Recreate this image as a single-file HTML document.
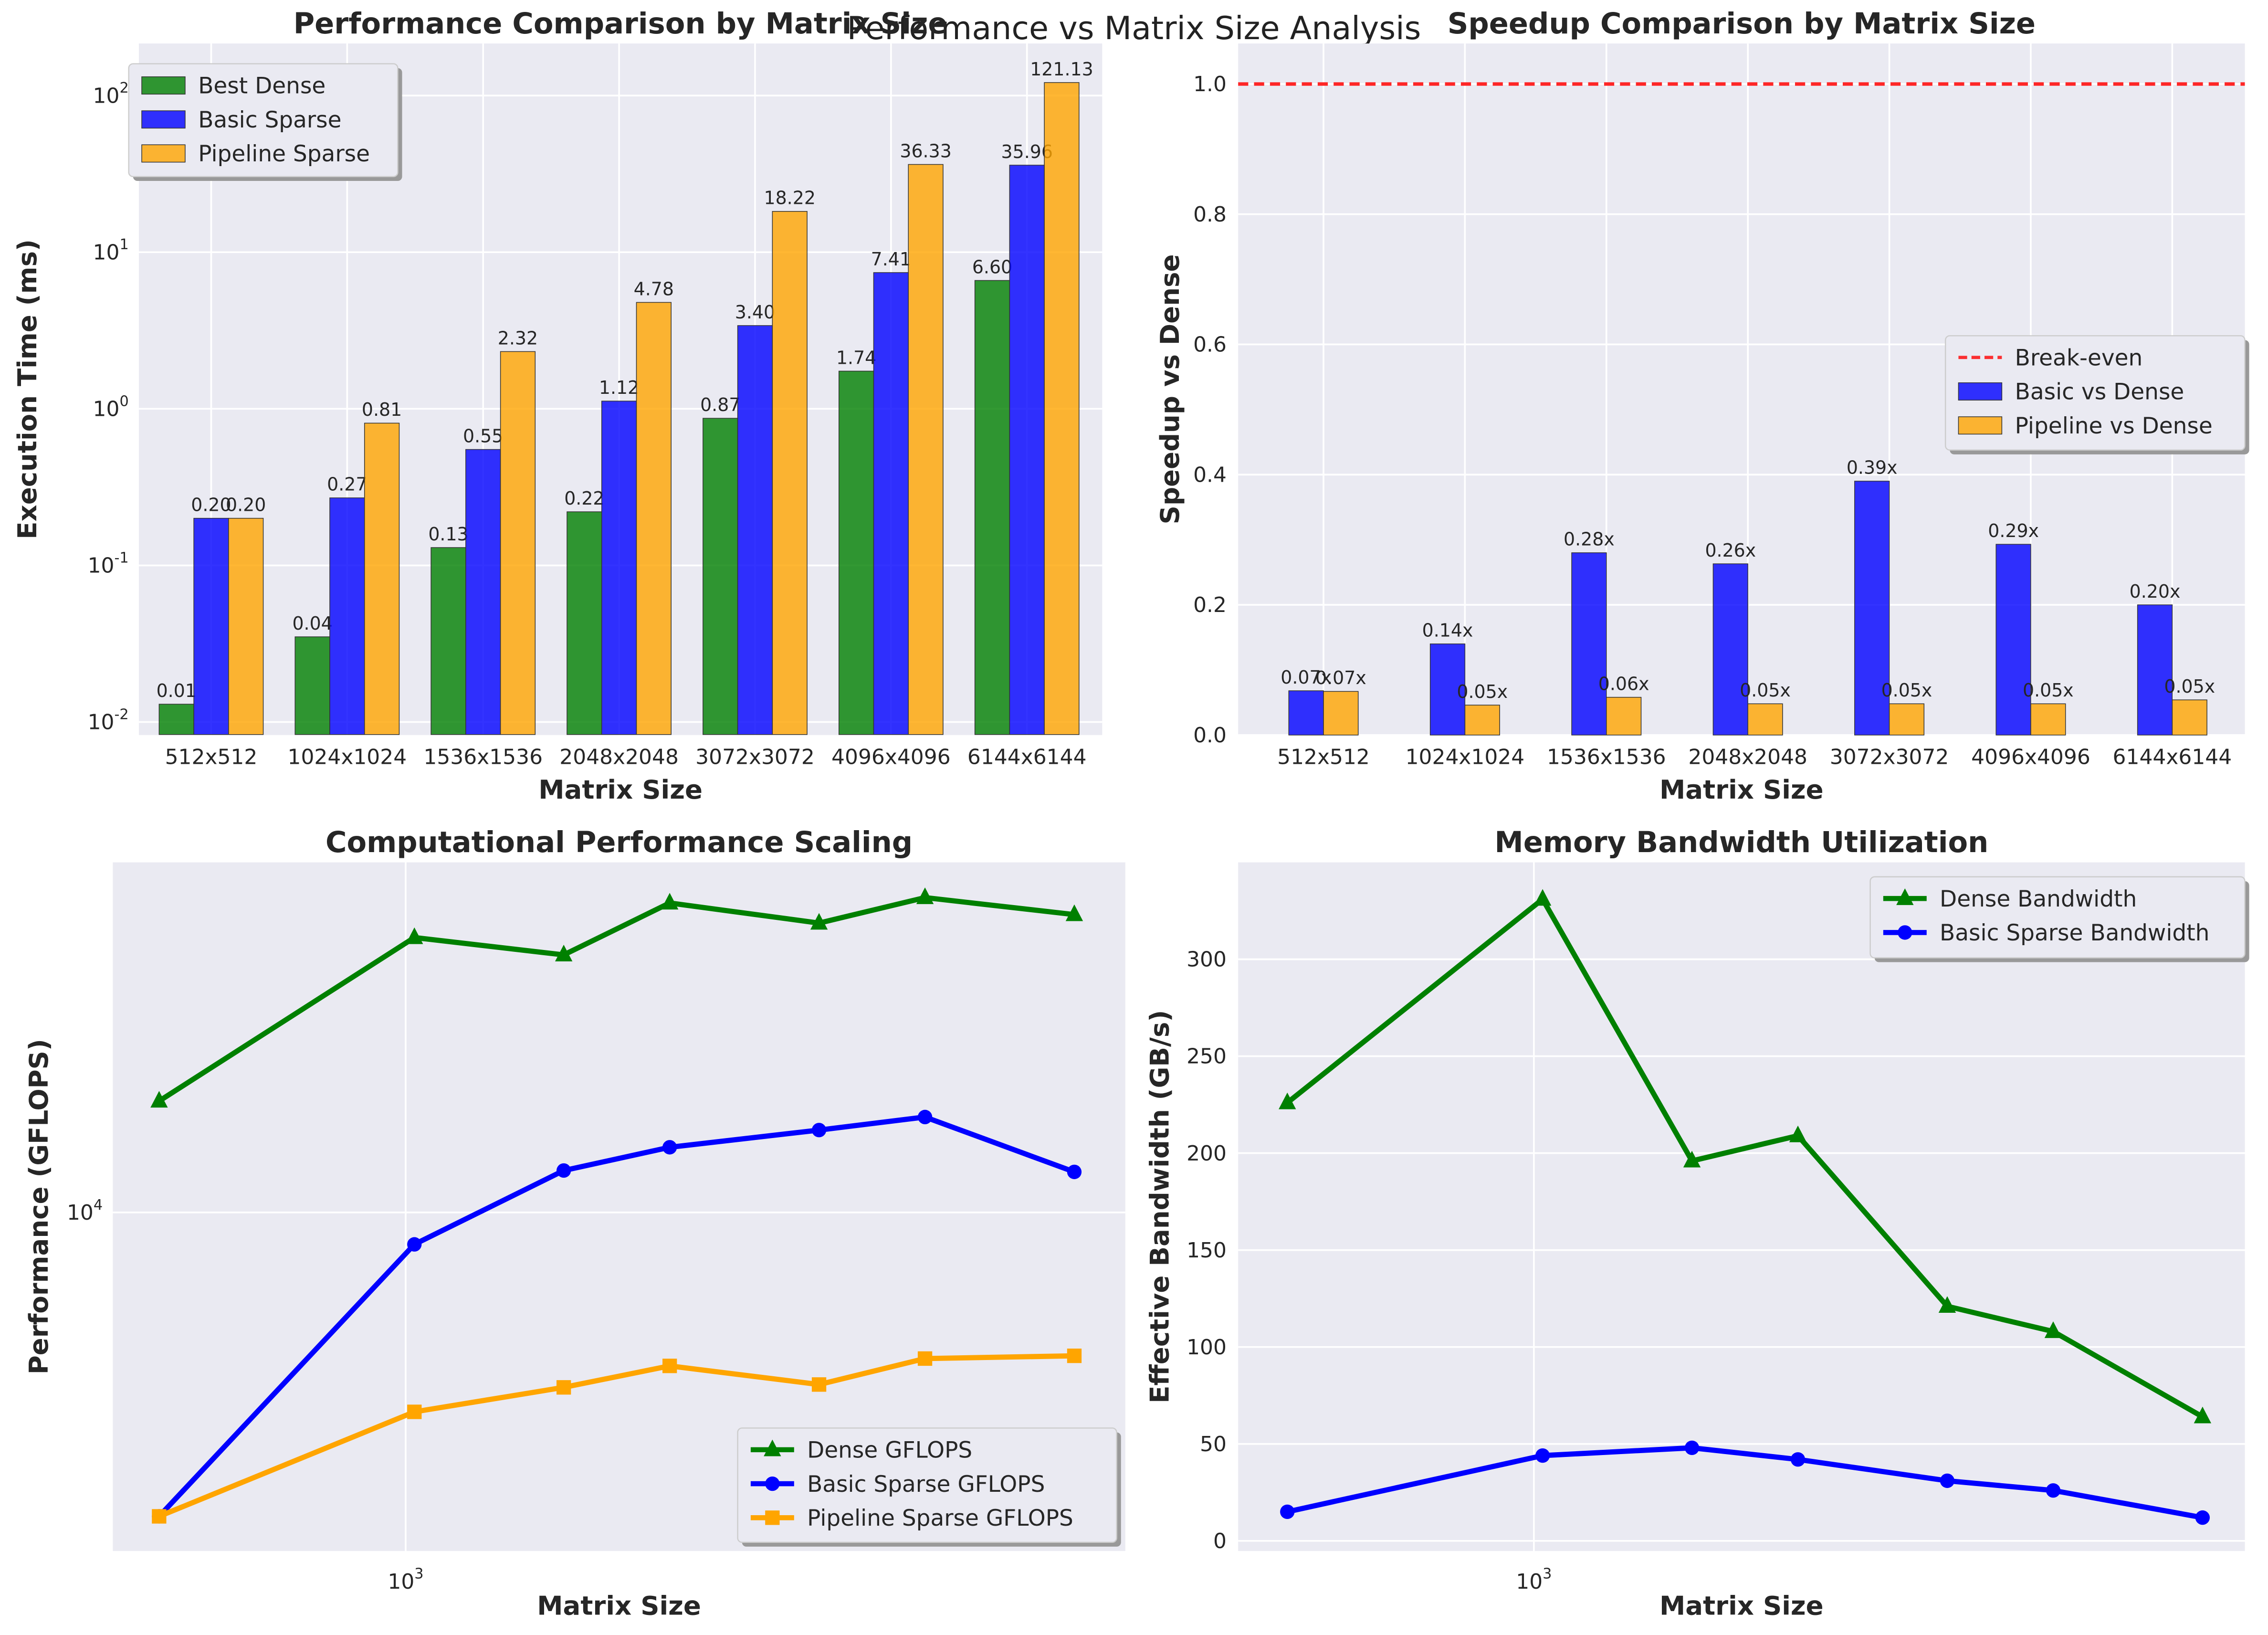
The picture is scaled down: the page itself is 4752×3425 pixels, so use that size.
<!DOCTYPE html>
<html><head><meta charset="utf-8">
<style>
html,body{margin:0;padding:0;background:#fff;}
svg{display:block;font-family:"DejaVu Sans","Liberation Sans",sans-serif;}
</style></head>
<body>
<svg id="fig" xmlns="http://www.w3.org/2000/svg" width="4752" height="3425" viewBox="0 0 1568 1130">
<rect width="1568" height="1130" fill="#fff"/>
<text x="784" y="27" text-anchor="middle" font-size="22" fill="#222">Performance vs Matrix Size Analysis</text>
</svg>
<script>
const sizes = [512, 1024, 1536, 2048, 3072, 4096, 6144];
const catLabels = ["512x512","1024x1024","1536x1536","2048x2048","3072x3072","4096x4096","6144x6144"];
const denseTime = [0.013, 0.035, 0.13, 0.22, 0.87, 1.74, 6.60];
const basicTime = [0.20, 0.27, 0.55, 1.12, 3.40, 7.41, 35.96];
const pipeTime = [0.20, 0.81, 2.32, 4.78, 18.22, 36.33, 121.13];
const basicSpeedup = [0.068, 0.14, 0.28, 0.263, 0.39, 0.293, 0.20];
const pipeSpeedup = [0.067, 0.046, 0.058, 0.048, 0.048, 0.048, 0.054];
const denseGflops = [20870, 61450, 54800, 77200, 67600, 80000, 71500];
const basicGflops = [1344, 8100, 13190, 15380, 17230, 18780, 13070];
const pipeGflops = [1344, 2680, 3150, 3630, 3210, 3810, 3880];
const denseBw = [226, 331, 196, 209, 121, 108, 64];
const basicBw = [15, 44, 48, 42, 31, 26, 12];
const speedTicks = [0, 0.2, 0.4, 0.6, 0.8, 1.0];
const bwTicks = [0, 50, 100, 150, 200, 250, 300];

const NS = "http://www.w3.org/2000/svg";
const svg = document.getElementById('fig');
function el(tag, attrs, parent, txt){
  const e = document.createElementNS(NS, tag);
  for (const k in attrs) e.setAttribute(k, attrs[k]);
  if (txt !== undefined) e.textContent = txt;
  (parent || svg).appendChild(e);
  return e;
}
const BG = "#eaeaf2", TXT = "#262626";
const COL = {g:"#008000", b:"#0000ff", o:"#ffa500"};

function panel(name, x0, y0, x1, y1){
  const g = el('g', {});
  
  
  el('rect', {x:x0, y:y0, width:x1-x0, height:y1-y0, fill:BG}, g);
  return g;
}
function label(g, name, x, y, txt, opts){
  const t = el('text', Object.assign({x:x, y:y, fill:TXT, 'font-size':14.5, 'text-anchor':'middle'}, opts||{}), g, txt);
  
  
  return t;
}
function pow10(g, name, x, y, exp, anchor){
  const t = el('text', {x:x, y:y, fill:TXT, 'font-size':14.5, 'text-anchor':anchor}, g);
  
  
  el('tspan', {}, t, '10');
  el('tspan', {dy:-7, 'font-size':10}, t, String(exp));
  return t;
}
function legend(g, name, x, y, w, h, items){
  const lg = el('g', {}, g);
  
  
  el('rect', {x:x+3, y:y+3, width:w, height:h, rx:3, fill:"#999"}, lg);
  el('rect', {x:x, y:y, width:w, height:h, rx:3, fill:"#eaeaf2", stroke:"#cccccc", 'stroke-width':0.8}, lg);
  items.forEach((it, i) => {
    const cy = y + 15 + i*23.5;
    const e = el('g', {}, lg);
    
    
    if (it.type === 'patch') el('rect', {x:x+9, y:cy-6, width:30, height:12, fill:it.color, 'fill-opacity':0.8, stroke:'#333', 'stroke-width':0.5}, e);
    else if (it.type === 'dash') el('line', {x1:x+9, x2:x+39, y1:cy, y2:cy, stroke:it.color, 'stroke-width':2.2, 'stroke-dasharray':'6,3', 'stroke-opacity':0.8}, e);
    else { el('line', {x1:x+9, x2:x+39, y1:cy, y2:cy, stroke:it.color, 'stroke-width':3.5}, e); marker(e, it.m, x+24, cy, it.color); }
    el('text', {x:x+48, y:cy+5.5, 'font-size':15.5, fill:TXT}, e, it.label);
  });
}
function marker(g, m, x, y, c){
  if (m === 'tri') return el('polygon', {points:`${x},${y-7} ${x-6},${y+4.5} ${x+6},${y+4.5}`, fill:c}, g);
  if (m === 'circ') return el('circle', {cx:x, cy:y, r:5, fill:c}, g);
  return el('rect', {x:x-5, y:y-5, width:10, height:10, fill:c}, g);
}

/* ---------- Panel 1: execution time (log y) ---------- */
(function(){
  const x0=96,y0=30,x1=762,y1=508;
  const g = panel('execution-time-chart', x0,y0,x1,y1);
  const yS = v => 499 - (Math.log10(v)+2)*108.25;
  const cx = i => 146 + i*94;
  for (let i=0;i<7;i++) el('line',{x1:cx(i),x2:cx(i),y1:y0,y2:y1,stroke:'#fff','stroke-width':1.2},g);
  for (let e=-2;e<=2;e++){
    el('line',{x1:x0,x2:x1,y1:yS(Math.pow(10,e)),y2:yS(Math.pow(10,e)),stroke:'#fff','stroke-width':1.2},g);
    pow10(g,'y-tick-label',x0-7,yS(Math.pow(10,e))+5,e,'end');
  }
  const base = yS(Math.pow(10,-2.08));
  const series = [[denseTime,COL.g,-24,'bar-dense'],[basicTime,COL.b,0,'bar-basic'],[pipeTime,COL.o,24,'bar-pipeline']];
  series.forEach(([arr,c,off,nm]) => arr.forEach((v,i) => {
    const x = cx(i)+off-12, y = yS(v);
    const r = el('rect',{x:x,y:y,width:24,height:base-y,fill:c,'fill-opacity':0.8,stroke:'#333','stroke-width':0.5},g);
    
    
    label(g,'bar-value',x+12,y-5,v.toFixed(2),{'font-size':12.5});
  }));
  catLabels.forEach((s,i)=>label(g,'x-tick-label',cx(i),y1+20,s));
  label(g,'x-axis-title',(x0+x1)/2,y1+44,'Matrix Size',{'font-size':18,'font-weight':'bold'});
  label(g,'y-axis-title',0,0,'Execution Time (ms)',{'font-size':18,'font-weight':'bold',transform:`translate(25,${(y0+y1)/2}) rotate(-90)`});
  label(g,'chart-title',(x0+x1)/2,y0-7,'Performance Comparison by Matrix Size',{'font-size':20,'font-weight':'bold'});
  legend(g,'legend',89,44,186,78,[{type:'patch',color:COL.g,label:'Best Dense'},{type:'patch',color:COL.b,label:'Basic Sparse'},{type:'patch',color:COL.o,label:'Pipeline Sparse'}]);
})();

/* ---------- Panel 2: speedup ---------- */
(function(){
  const x0=856,y0=30,x1=1552,y1=508;
  const g = panel('speedup-chart', x0,y0,x1,y1);
  const yS = v => 508 - v*450;
  const cx = i => 915 + i*97.8;
  for (let i=0;i<7;i++) el('line',{x1:cx(i),x2:cx(i),y1:y0,y2:y1,stroke:'#fff','stroke-width':1.2},g);
  speedTicks.forEach(t=>{
    el('line',{x1:x0,x2:x1,y1:yS(t),y2:yS(t),stroke:'#fff','stroke-width':1.2},g);
    label(g,'y-tick-label',x0-8,yS(t)+5,t.toFixed(1),{'text-anchor':'end'});
  });
  const be = el('line',{x1:x0,x2:x1,y1:yS(1),y2:yS(1),stroke:'#ff0000','stroke-width':2.4,'stroke-dasharray':'7,4','stroke-opacity':0.85},g);
  
  
  [[basicSpeedup,COL.b,-12,'bar-basic-speedup'],[pipeSpeedup,COL.o,12,'bar-pipeline-speedup']].forEach(([arr,c,off,nm])=>arr.forEach((v,i)=>{
    const x=cx(i)+off-12, y=yS(v);
    const r = el('rect',{x:x,y:y,width:24,height:y1-y,fill:c,'fill-opacity':0.8,stroke:'#333','stroke-width':0.5},g);
    
    
    label(g,'bar-value',x+12,y-5,v.toFixed(2)+'x',{'font-size':12.5});
  }));
  catLabels.forEach((s,i)=>label(g,'x-tick-label',cx(i),y1+20,s));
  label(g,'x-axis-title',(x0+x1)/2,y1+44,'Matrix Size',{'font-size':18,'font-weight':'bold'});
  label(g,'y-axis-title',0,0,'Speedup vs Dense',{'font-size':18,'font-weight':'bold',transform:`translate(815,${(y0+y1)/2}) rotate(-90)`});
  label(g,'chart-title',(x0+x1)/2,y0-7,'Speedup Comparison by Matrix Size',{'font-size':20,'font-weight':'bold'});
  legend(g,'legend',1345,232,207,79,[{type:'dash',color:'#ff0000',label:'Break-even'},{type:'patch',color:COL.b,label:'Basic vs Dense'},{type:'patch',color:COL.o,label:'Pipeline vs Dense'}]);
})();

function linePanel(name, x0,y0,x1,y1, xOrigin, xMarks, yS, lines, title, ylab, ylabX, legendBox){
  const g = panel(name, x0,y0,x1,y1);
  const xS = s => xOrigin + Math.log2(s/512)*176.5;
  const x1000 = xS(1000);
  el('line',{x1:x1000,x2:x1000,y1:y0,y2:y1,stroke:'#fff','stroke-width':1.2},g);
  pow10(g,'x-tick-label',x1000,y1+26,3,'middle');
  xMarks(g);
  lines.forEach(([arr,c,m,nm])=>{
    const pts = arr.map((v,i)=>xS(sizes[i])+','+yS(v)).join(' ');
    const pl = el('polyline',{points:pts,fill:'none',stroke:c,'stroke-width':3.6,'stroke-linejoin':'round'},g);
    
    
    arr.forEach((v,i)=>{
      const mk = marker(g,m,xS(sizes[i]),yS(v),c);
      
      
    });
  });
  label(g,'x-axis-title',(x0+x1)/2,y1+44,'Matrix Size',{'font-size':18,'font-weight':'bold'});
  label(g,'y-axis-title',0,0,ylab,{'font-size':18,'font-weight':'bold',transform:`translate(${ylabX},${(y0+y1)/2}) rotate(-90)`});
  label(g,'chart-title',(x0+x1)/2,y0-7,title,{'font-size':20,'font-weight':'bold'});
  legendBox(g);
}

/* ---------- Panel 3: GFLOPS ---------- */
linePanel('gflops-chart',78,596,778,1072,110,
  g=>{ el('line',{x1:78,x2:778,y1:838,y2:838,stroke:'#fff','stroke-width':1.2},g); pow10(g,'y-tick-label',71,843,4,'end'); },
  v=>838-(Math.log10(v)-4)*241,
  [[denseGflops,COL.g,'tri','line-dense-gflops'],[basicGflops,COL.b,'circ','line-basic-gflops'],[pipeGflops,COL.o,'sq','line-pipeline-gflops']],
  'Computational Performance Scaling','Performance (GFLOPS)',33,
  g=>legend(g,'legend',510,987,262,79,[{type:'line',m:'tri',color:COL.g,label:'Dense GFLOPS'},{type:'line',m:'circ',color:COL.b,label:'Basic Sparse GFLOPS'},{type:'line',m:'sq',color:COL.o,label:'Pipeline Sparse GFLOPS'}]));

/* ---------- Panel 4: bandwidth ---------- */
linePanel('bandwidth-chart',856,596,1552,1072,890,
  g=>bwTicks.forEach(t=>{ const y=1065-t*1.34; el('line',{x1:856,x2:1552,y1:y,y2:y,stroke:'#fff','stroke-width':1.2},g); label(g,'y-tick-label',848,y+5,String(t),{'text-anchor':'end'}); }),
  v=>1065-v*1.34,
  [[denseBw,COL.g,'tri','line-dense-bandwidth'],[basicBw,COL.b,'circ','line-basic-bandwidth']],
  'Memory Bandwidth Utilization','Effective Bandwidth (GB/s)',808,
  g=>legend(g,'legend',1293,606,259,56,[{type:'line',m:'tri',color:COL.g,label:'Dense Bandwidth'},{type:'line',m:'circ',color:COL.b,label:'Basic Sparse Bandwidth'}]));
</script>
</body></html>
